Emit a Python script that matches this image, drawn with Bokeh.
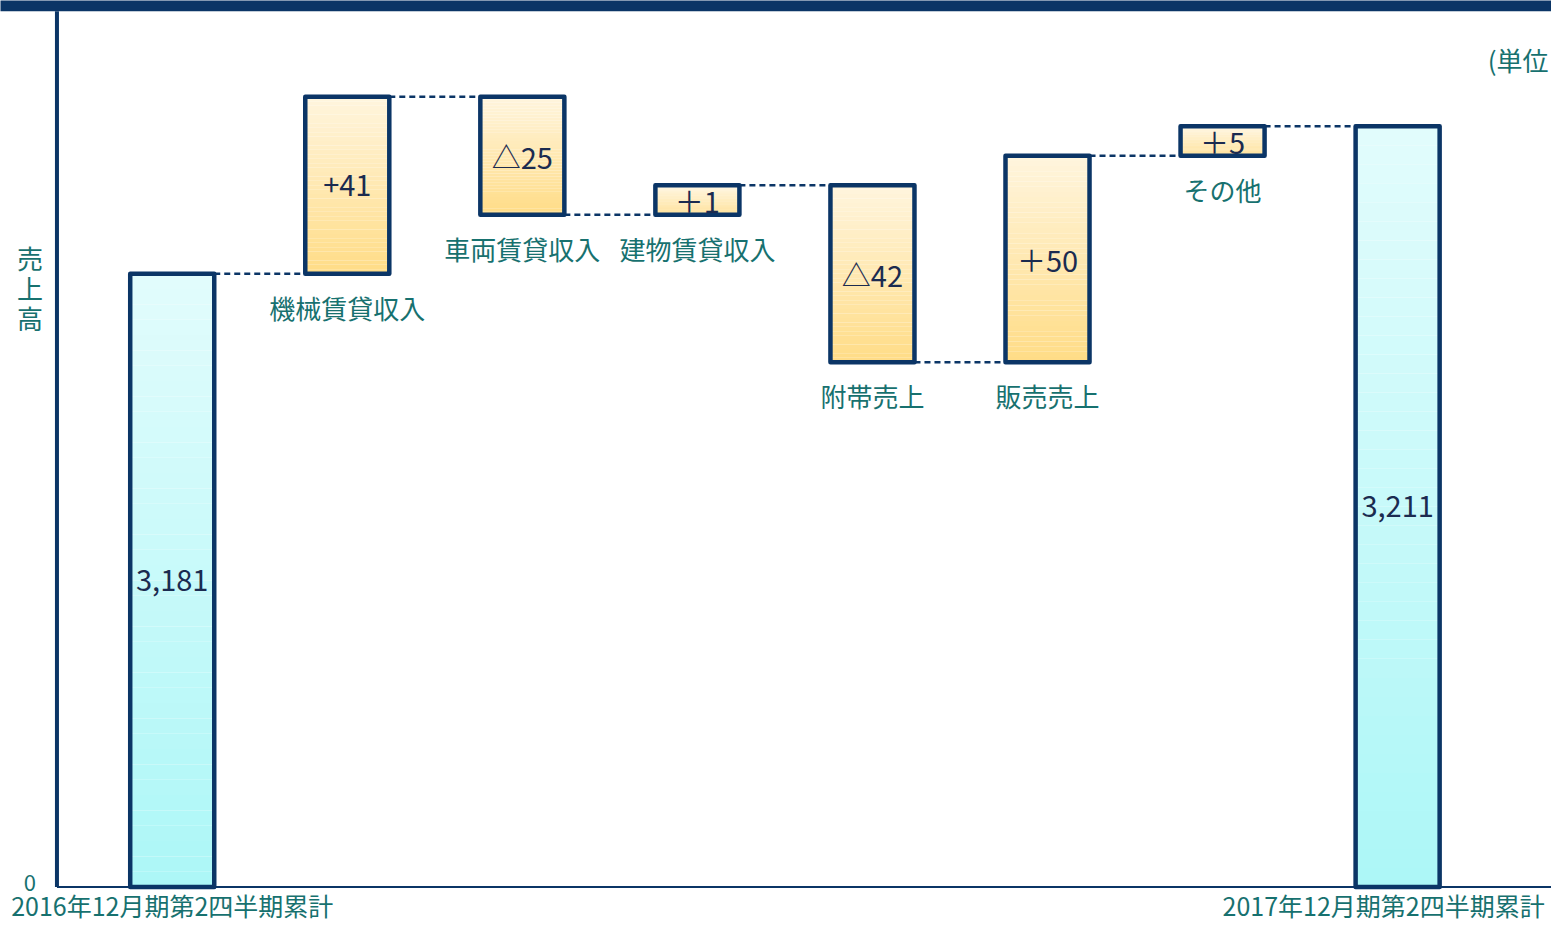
from bokeh.plotting import figure
from bokeh.models import Range1d
from bokeh.core.properties import value
from bokeh.embed import file_html
from bokeh.resources import INLINE

# ---------------- data ----------------
categories = ["2016年12月期第2四半期累計", "機械賃貸収入", "車両賃貸収入", "建物賃貸収入",
              "附帯売上", "販売売上", "その他", "2017年12月期第2四半期累計"]
values = [3181, 41, -25, 1, -42, 50, 5, 3211]
value_labels = ["3,181", "+41", "△25", "＋1", "△42", "＋50", "＋5", "3,211"]
kinds = ["total", "step", "step", "step", "step", "step", "step", "total"]
# the source chart is schematic (not to scale): bar heights as drawn
drawn_heights = [20.8, 6, -4, 1, -6, 7, 1, 25.8]
y_ticks = [0]
y_tick_labels = ["0"]
unit_text = "(単位"          # only this part of the unit note is visible in the original
y_title = "売\n上\n高"

NAVY = "#0b3566"
TEAL = "#17716f"
VAL_COL = "#1b2b50"
FONT = "Noto Sans CJK JP"
BLUE_TOP, BLUE_BOT = (226, 252, 252), (172, 247, 247)
ORG_TOP, ORG_BOT = (255, 245, 222), (255, 220, 134)

# ---------------- derived bar extents ----------------
xs = list(range(len(values)))
bottoms, tops = [], []
level = 0.0
for k, h in zip(kinds, drawn_heights):
    if k == "total":
        b, t = 0.0, h
        level = h
    else:
        b, t = min(level, level + h), max(level, level + h)
        level += h
    bottoms.append(b)
    tops.append(t)

W = 0.48
X0, X1 = -0.981, 7.879
Y0, Y1 = -1.268, 30.065
AXIS_X = -0.6585
TOP_Y = 29.7

p = figure(width=1551, height=924, output_backend="svg", toolbar_location=None,
           x_range=Range1d(X0, X1), y_range=Range1d(Y0, Y1),
           min_border=0)
p.outline_line_color = None
p.xgrid.visible = False
p.ygrid.visible = False
p.xaxis.visible = False
p.yaxis.visible = False
p.background_fill_color = "white"
p.border_fill_color = "white"

# top band
p.quad(left=[X0 - 1], right=[X1 + 1], bottom=[TOP_Y], top=[Y1 + 1], fill_color=NAVY, line_color=None)


def mix(c1, c2, f):
    return "#%02x%02x%02x" % tuple(int(round(a + (b - a) * f)) for a, b in zip(c1, c2))


# gradient fills (stacked thin strips)
N = 40
sl, sr, sb, st, sc = [], [], [], [], []
for x, b, t, k in zip(xs, bottoms, tops, kinds):
    ctop, cbot = (BLUE_TOP, BLUE_BOT) if k == "total" else (ORG_TOP, ORG_BOT)
    for j in range(N):
        sl.append(x - W / 2)
        sr.append(x + W / 2)
        sb.append(b + (t - b) * j / N)
        st.append(b + (t - b) * (j + 1) / N)
        sc.append(mix(cbot, ctop, (j + 0.5) / N))
p.quad(left=sl, right=sr, bottom=sb, top=st, fill_color=sc, line_color=None)

# connectors
cx0, cx1, cy = [], [], []
for i in range(len(values) - 1):
    lvl = tops[i] if (kinds[i] == "total" or drawn_heights[i] >= 0) else bottoms[i]
    cx0.append(xs[i] + W / 2)
    cx1.append(xs[i + 1] - W / 2)
    cy.append(lvl)
p.segment(x0=cx0, y0=cy, x1=cx1, y1=cy, line_color=NAVY, line_width=2.5, line_dash="6 4")

# axes lines (left axis and baseline)
p.segment(x0=[AXIS_X], y0=[0], x1=[AXIS_X], y1=[TOP_Y], line_color=NAVY, line_width=4)
p.segment(x0=[AXIS_X], y0=[0], x1=[X1 + 1], y1=[0], line_color=NAVY, line_width=2)

# bar borders
p.quad(left=[x - W / 2 for x in xs], right=[x + W / 2 for x in xs], bottom=bottoms, top=tops,
       fill_alpha=0, line_color=NAVY, line_width=4.5, line_join="round")

# value labels
p.text(x=xs, y=[(b + t) / 2 for b, t in zip(bottoms, tops)], text=value_labels,
       text_align="center", text_baseline="middle", text_font=value(FONT),
       text_font_size="29px", text_color=VAL_COL)

# category labels under step bars
mid = slice(1, len(values) - 1)
p.text(x=xs[mid], y=bottoms[mid], text=categories[mid], y_offset=15,
       text_align="center", text_baseline="top", text_font=value(FONT),
       text_font_size="26px", text_color=TEAL)

# period labels under the baseline
p.text(x=[xs[0]], y=[0], text=[categories[0]], y_offset=18,
       text_align="center", text_baseline="middle", text_font=value(FONT),
       text_font_size="25px", text_color=TEAL)
p.text(x=[xs[-1]], y=[0], text=[categories[-1]], y_offset=18, x_offset=-14,
       text_align="center", text_baseline="middle", text_font=value(FONT),
       text_font_size="25px", text_color=TEAL)

# y tick label
p.text(x=[AXIS_X] * len(y_ticks), y=y_ticks, text=y_tick_labels, x_offset=-27, y_offset=-4,
       text_align="center", text_baseline="middle", text_font=value(FONT),
       text_font_size="22px", text_color=TEAL)

# y title (stacked characters)
p.text(x=[AXIS_X], y=[20.33], text=[y_title], x_offset=-27,
       text_align="center", text_baseline="middle", text_font=value(FONT),
       text_font_size="26px", text_color=TEAL, text_line_height=0.8)

# unit note (top right corner)
p.text(x=[X1], y=[28.07], text=[unit_text], x_offset=-3, text_align="right", text_baseline="middle",
       text_font=value(FONT), text_font_size="26px", text_color=TEAL)

open("out.html", "w").write(file_html(p, INLINE))
